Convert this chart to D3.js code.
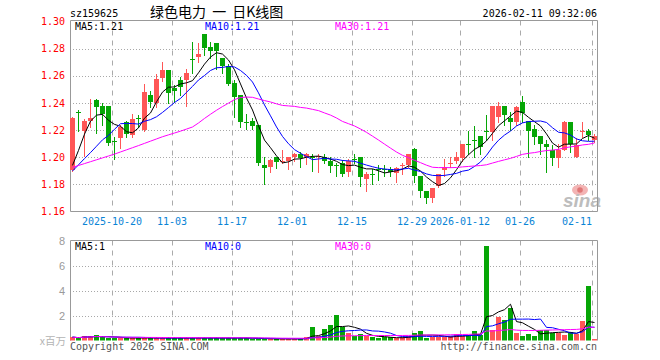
<!DOCTYPE html>
<html><head><meta charset="utf-8">
<script src="https://cdn.jsdelivr.net/npm/d3@7"></script>
<style>body{margin:0;background:#fff}svg{display:block}</style>
</head><body>
<svg id="c" width="660" height="360"></svg>
<script>
const dates = [
"2025-10-09","2025-10-10","2025-10-13","2025-10-14","2025-10-15","2025-10-16","2025-10-17",
"2025-10-20","2025-10-21","2025-10-22","2025-10-23","2025-10-24",
"2025-10-27","2025-10-28","2025-10-29","2025-10-30","2025-10-31",
"2025-11-03","2025-11-04","2025-11-05","2025-11-06","2025-11-07",
"2025-11-10","2025-11-11","2025-11-12","2025-11-13","2025-11-14",
"2025-11-17","2025-11-18","2025-11-19","2025-11-20","2025-11-21",
"2025-11-24","2025-11-25","2025-11-26","2025-11-27","2025-11-28",
"2025-12-01","2025-12-02","2025-12-03","2025-12-04","2025-12-05",
"2025-12-08","2025-12-09","2025-12-10","2025-12-11","2025-12-12",
"2025-12-15","2025-12-16","2025-12-17","2025-12-18","2025-12-19",
"2025-12-22","2025-12-23","2025-12-24","2025-12-25","2025-12-26",
"2025-12-29","2025-12-30","2025-12-31",
"2026-01-05","2026-01-06","2026-01-07","2026-01-08","2026-01-09",
"2026-01-12","2026-01-13","2026-01-14","2026-01-15","2026-01-16",
"2026-01-19","2026-01-20","2026-01-21","2026-01-22","2026-01-23",
"2026-01-26","2026-01-27","2026-01-28","2026-01-29","2026-01-30",
"2026-02-02","2026-02-03","2026-02-04","2026-02-05","2026-02-06",
"2026-02-09","2026-02-10","2026-02-11"];

const open = [
1.191,1.233,1.220,1.227,1.242,1.238,1.238,1.212,1.214,1.226,
1.216,1.229,1.220,1.246,1.240,1.258,1.264,1.251,1.257,1.257,
1.272,1.274,1.291,1.281,1.284,1.273,1.267,1.255,1.246,1.226,
1.227,1.224,1.194,1.193,1.200,1.196,1.197,1.200,1.202,1.200,
1.200,1.200,1.200,1.197,1.194,1.196,1.189,1.199,1.200,1.184,
1.188,1.191,1.191,1.191,1.188,1.193,1.194,1.206,1.186,1.175,
1.170,1.179,1.191,1.195,1.197,1.200,1.210,1.213,1.216,1.219,
1.219,1.230,1.238,1.229,1.226,1.241,1.227,1.221,1.216,1.210,
1.205,1.199,1.205,1.226,1.200,1.218,1.219,1.213];
const high = [
1.230,1.235,1.228,1.243,1.243,1.240,1.238,1.215,1.224,1.227,
1.232,1.231,1.254,1.249,1.261,1.270,1.264,1.253,1.259,1.265,
1.285,1.284,1.291,1.285,1.284,1.273,1.269,1.257,1.246,1.232,
1.229,1.224,1.200,1.199,1.200,1.205,1.200,1.203,1.204,1.203,
1.202,1.202,1.202,1.200,1.196,1.198,1.199,1.202,1.200,1.189,
1.191,1.194,1.194,1.193,1.193,1.196,1.202,1.207,1.186,1.175,
1.177,1.188,1.199,1.200,1.204,1.210,1.219,1.223,1.216,1.231,
1.238,1.241,1.238,1.233,1.238,1.245,1.227,1.224,1.216,1.213,
1.209,1.210,1.227,1.226,1.214,1.226,1.221,1.217];
const low = [
1.190,1.219,1.201,1.222,1.218,1.224,1.209,1.199,1.207,1.215,
1.215,1.222,1.219,1.237,1.237,1.256,1.240,1.241,1.246,1.238,
1.262,1.270,1.275,1.273,1.265,1.262,1.253,1.230,1.222,1.221,
1.221,1.194,1.180,1.189,1.192,1.196,1.191,1.197,1.193,1.195,
1.190,1.189,1.196,1.189,1.186,1.186,1.186,1.196,1.179,1.175,
1.180,1.183,1.186,1.186,1.182,1.188,1.193,1.182,1.171,1.166,
1.167,1.178,1.186,1.193,1.196,1.197,1.202,1.200,1.202,1.213,
1.213,1.226,1.224,1.220,1.224,1.226,1.200,1.210,1.202,1.189,
1.194,1.193,1.205,1.204,1.200,1.215,1.213,1.211];
const close = [
1.229,1.233,1.227,1.229,1.237,1.232,1.211,1.212,1.222,1.217,
1.228,1.229,1.248,1.241,1.258,1.264,1.247,1.249,1.252,1.262,
1.272,1.276,1.281,1.278,1.278,1.267,1.254,1.245,1.226,1.226,
1.223,1.196,1.192,1.198,1.196,1.197,1.200,1.202,1.199,1.202,
1.200,1.201,1.197,1.193,1.194,1.188,1.197,1.199,1.185,1.188,
1.188,1.190,1.191,1.189,1.192,1.194,1.202,1.186,1.175,1.170,
1.177,1.188,1.193,1.196,1.200,1.210,1.210,1.213,1.208,1.219,
1.238,1.238,1.231,1.226,1.237,1.233,1.220,1.215,1.210,1.208,
1.199,1.205,1.226,1.210,1.209,1.219,1.216,1.216];
// volume, millions
const volume = [
0.27,0.19,0.35,0.35,0.43,0.24,0.21,0.19,0.20,0.19,
0.21,0.19,0.22,0.20,0.21,0.20,0.19,0.21,0.20,0.19,
0.22,0.20,0.21,0.19,0.20,0.21,0.19,0.20,0.21,0.19,
0.13,0.12,0.13,0.14,0.12,0.13,0.12,0.13,0.14,0.27,
1.07,0.35,0.90,1.23,2.03,1.07,0.59,0.35,0.51,0.35,
0.27,0.19,0.24,0.24,0.19,0.24,0.36,0.59,0.75,0.19,
0.27,0.24,0.30,0.35,0.50,0.35,0.43,0.75,0.43,7.55,
0.83,1.89,1.63,2.61,0.61,0.35,0.51,0.35,0.83,0.88,
0.56,0.64,0.48,0.69,0.50,1.55,4.35,0.11];
// closes of the 29 sessions before the window (estimated from the MA lines)
const priorCloses = [1.191,1.185,1.187,1.195,1.190,1.169,1.170,1.175,1.170,1.181,
1.182,1.199,1.192,1.209,1.215,1.206,1.208,1.211,1.216,1.226,
1.187,1.181,1.185,1.190,1.185,1.178,1.167,1.181,1.215];

const tickDates = ["2025-10-20","2025-11-03","2025-11-17","2025-12-01","2025-12-15","2025-12-29","2026-01-12","2026-01-26","2026-02-11"];
const tickLabels = ["2025-10-20","11-03","11-17","12-01","12-15","12-29","2026-01-12","01-26","02-11"];
const priceTicks = [1.30,1.28,1.26,1.24,1.22,1.20,1.18,1.16];
const priceGrid = [1.28,1.26,1.24,1.22,1.20,1.18];
const volTicks = [8,6,4,2];
const volMaLabels = ["MA5:1","MA10:0","MA30:0"];
const code = "sz159625";
const title = "绿色电力 一 日K线图";
const stamp = "2026-02-11 09:32:06";

const RED = "#ff5656", GREEN = "#06a606";
const MA_COL = ["#000000","#0000ff","#ff00ff"];
const MONO = "'DejaVu Sans Mono', monospace";

const svg = d3.select("#c");
const L = 70, R = 597;
const x = d3.scaleBand().domain(dates).range([L, R]).paddingInner(1/6).paddingOuter(0);
const y = d3.scaleLinear().domain([1.16, 1.30]).range([211.5, 21.5]);
const yv = d3.scaleLinear().domain([0, 8]).range([340.5, 240.5]);
const PT = 20.5, PB = 211.5, VT = 240.5, VB = 340.5;

const idx = dates.map((d,i)=>i);
const cx = i => x(dates[i]) + 2.5;

// moving averages
const allC = priorCloses.concat(close);
const off = priorCloses.length;
function maPrice(n){ return close.map((_,i)=> d3.mean(allC.slice(i+off-n+1, i+off+1))); }
function maVol(n){ return volume.map((_,i)=> d3.mean(volume.slice(Math.max(0,i-n+1), i+1))); }
const pMA = [maPrice(5), maPrice(10), maPrice(30)];
const vMA = [maVol(5), maVol(10), maVol(30)];

// grids
const grid = svg.append("g");
grid.selectAll(".hp").data(priceGrid).join("line")
  .attr("x1", L).attr("x2", R).attr("y1", d=>Math.round(y(d))+0.5).attr("y2", d=>Math.round(y(d))+0.5)
  .attr("stroke","#a8a8a8").attr("stroke-dasharray","1,2");
grid.selectAll(".hv").data([2,4,6]).join("line")
  .attr("x1", L).attr("x2", R).attr("y1", d=>Math.round(yv(d))+0.5).attr("y2", d=>Math.round(yv(d))+0.5)
  .attr("stroke","#a8a8a8").attr("stroke-dasharray","1,2");
[[PT,PB],[VT,VB]].forEach(([t,b])=>{
  grid.selectAll(null).data(tickDates).join("line")
    .attr("x1", d=>x(d)+0.5).attr("x2", d=>x(d)+0.5).attr("y1", t).attr("y2", b)
    .attr("stroke","#aaaaaa").attr("stroke-dasharray","5,5");
});

// watermark
const wm = svg.append("g");
wm.append("ellipse").attr("cx",580).attr("cy",190).attr("rx",8).attr("ry",5.5).attr("fill","#f3b4b4");
wm.append("circle").attr("cx",580).attr("cy",190).attr("r",2.8).attr("fill","#e07878");
wm.append("text").attr("x",563).attr("y",207).attr("font-family","'Liberation Sans', Arial, sans-serif")
  .attr("font-size",19).attr("font-style","italic").attr("font-weight","bold").attr("fill","#bdbdbd").text("sina");

// borders
svg.append("path").attr("d",`M${L+0.5},${PB}V${PT}H${R+0.5}V${PB}H${L+0.5}`)
  .attr("fill","none").attr("stroke","#999");
svg.append("path").attr("d",`M${L+0.5},${VB}V${VT}H${R+0.5}V${VB}`)
  .attr("fill","none").attr("stroke","#999");

// candles
const up = i => close[i] > open[i];
const cg = svg.append("g");
cg.selectAll("line").data(idx).join("line")
  .attr("x1", cx).attr("x2", cx)
  .attr("y1", i=>Math.round(y(high[i]))).attr("y2", i=>Math.round(y(low[i]))+1)
  .attr("stroke", i=>up(i)?RED:GREEN).attr("stroke-width",1);
cg.selectAll("rect").data(idx).join("rect")
  .attr("x", i=>x(dates[i])).attr("width", x.bandwidth())
  .attr("y", i=>Math.round(y(Math.max(open[i],close[i]))))
  .attr("height", i=>Math.max(1, Math.round(Math.abs(y(open[i])-y(close[i])))))
  .attr("fill", i=>up(i)?RED:GREEN);

// price MAs
pMA.forEach((arr,k)=>{
  svg.append("path").attr("d", d3.line().x((d,i)=>cx(i)).y(d=>y(d))(arr))
    .attr("fill","none").attr("stroke",MA_COL[k]).attr("stroke-width",1);
});

// volume bars
svg.append("g").selectAll("rect").data(idx).join("rect")
  .attr("x", i=>x(dates[i])).attr("width", x.bandwidth())
  .attr("y", i=>Math.round(yv(volume[i]))).attr("height", i=>340 - Math.round(yv(volume[i])) + 0.5)
  .attr("fill", i=>up(i)?RED:GREEN);
vMA.forEach((arr,k)=>{
  svg.append("path").attr("d", d3.line().x((d,i)=>cx(i)).y(d=>yv(d))(arr))
    .attr("fill","none").attr("stroke",MA_COL[k]).attr("stroke-width",1);
});

// axes
const ya = svg.append("g").attr("transform",`translate(${L},0)`)
  .call(d3.axisLeft(y).tickValues(priceTicks).tickFormat(d3.format(".2f")).tickSize(0).tickPadding(5));
ya.select(".domain").remove();
ya.selectAll("text").attr("fill","#ff0000").attr("font-family",MONO).attr("font-size",10);

const xa = svg.append("g").attr("transform",`translate(-2.5,${PB-0.5})`)
  .call(d3.axisBottom(x).tickValues(tickDates).tickFormat((d,i)=>tickLabels[i]).tickSize(0).tickPadding(7));
xa.select(".domain").remove();
xa.selectAll("text").attr("fill","#0a84d6").attr("font-family",MONO).attr("font-size",10)
  .each(function(d){ if (x(d) + 16 > R) d3.select(this).attr("text-anchor","end"); });

const va = svg.append("g").attr("transform",`translate(${L},0)`)
  .call(d3.axisLeft(yv).tickValues(volTicks).tickFormat(d3.format("d")).tickSize(0).tickPadding(5));
va.select(".domain").remove();
va.selectAll("text").attr("fill","#9a9a9a").attr("font-family","'Liberation Sans', Arial, sans-serif").attr("font-size",11);

// texts
const T = (tx,ty,s,opt={}) => svg.append("text").attr("x",tx).attr("y",ty)
  .attr("font-family",opt.ff||MONO).attr("font-size",opt.fs||10)
  .attr("fill",opt.fill||"#000").attr("text-anchor",opt.anchor||"start").text(s);
T(70,16.5,code);
T(150,17,title,{ff:"'Noto Sans CJK SC', sans-serif",fs:14}).attr("word-spacing",3);
T(597,16.5,stamp,{anchor:"end"});
const pLab = ["MA5:","MA10:","MA30:"];
[75,205,335].forEach((lx,k)=>T(lx,29.5,pLab[k]+pMA[k][pMA[k].length-1].toFixed(2),{fill:MA_COL[k]}));
[75,205,335].forEach((lx,k)=>T(lx,249.5,volMaLabels[k],{fill:MA_COL[k]}));
T(66,345,"x百万",{ff:"'Noto Sans CJK SC', sans-serif",fs:10.5,fill:"#b4b4b4",anchor:"end"});
T(70,350,"Copyright 2026 SINA.COM",{fill:"#555"});
T(597,350,"http://finance.sina.com.cn",{fill:"#555",anchor:"end"});
</script>
</body></html>
